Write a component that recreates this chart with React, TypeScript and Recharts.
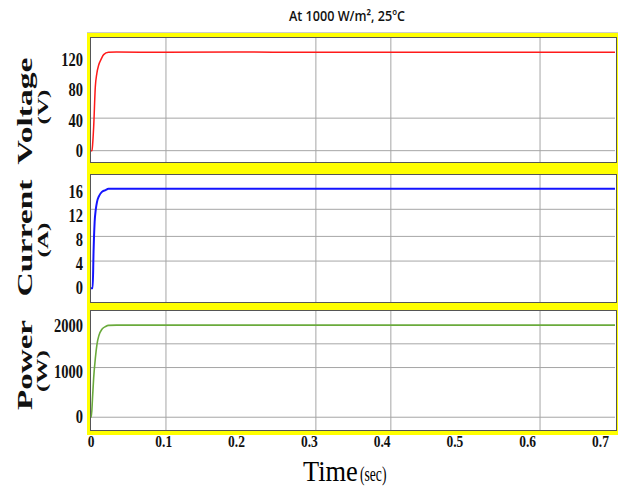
import React from 'react';
import { LineChart, Line, XAxis, YAxis, CartesianGrid } from 'recharts';

// time axis ticks (sec)
const timeTicks = [0, 0.1, 0.2, 0.3, 0.4, 0.5, 0.6, 0.7];
const vGridTimes = [0.103, 0.309, 0.412, 0.617];

// Voltage (V)
const voltTime = [0, 0.0014, 0.0025, 0.0037, 0.0059, 0.008, 0.0105, 0.014, 0.0174, 0.024, 0.035, 0.1, 0.2, 0.3, 0.4, 0.5, 0.6, 0.72];
const voltage = [0, 0, 12, 32, 84, 102, 113, 121, 127, 130, 130.4, 130.2, 130.4, 130.1, 130.3, 130.2, 130.3, 130.2];
const voltTicks = [0, 40, 80, 120];
const voltGrid = [0, 22, 43];

// Current (A)
const currTime = [0, 0.0023, 0.0035, 0.005, 0.0065, 0.0082, 0.011, 0.015, 0.02, 0.024, 0.035, 0.1, 0.2, 0.3, 0.4, 0.5, 0.6, 0.72];
const current = [0, 0, 6, 11, 13, 14.3, 15.3, 16, 16.3, 16.5, 16.5, 16.5, 16.5, 16.5, 16.5, 16.5, 16.5, 16.5];
const currTicks = [0, 4, 8, 12, 16];
const currGrid = [2.3, 4.5, 6.6, 8.6, 11, 13.1];

// Power (W)
const powTime = [0, 0.0004, 0.002, 0.0037, 0.006, 0.0082, 0.011, 0.015, 0.02, 0.024, 0.035, 0.1, 0.2, 0.3, 0.4, 0.5, 0.6, 0.72];
const power = [0, 0, 400, 870, 1300, 1600, 1800, 1930, 1990, 2015, 2020, 2020, 2020, 2020, 2020, 2020, 2020, 2020];
const powTicks = [0, 1000, 2000];
const powGrid = [0, 1090, 1610];

const serif = '"Liberation Serif", "DejaVu Serif", serif';

const YTick = (props: any) => {
  const { x, y, payload } = props;
  return (
    <g transform={`translate(${x},${y})`}>
      <text textAnchor="end" dominantBaseline="central" transform="scale(1,1.35)"
        fontFamily={serif} fontWeight="bold" fontSize={14.5} fill="#111">
        {payload.value}
      </text>
    </g>
  );
};

const XTick = (props: any) => {
  const { x, y, payload } = props;
  return (
    <g transform={`translate(${x},${y})`}>
      <text textAnchor="middle" dy="0.75em" transform="scale(1,1.3)"
        fontFamily={serif} fontWeight="bold" fontSize={13.5} fill="#111">
        {payload.value === 0 ? '0' : payload.value.toFixed(1)}
      </text>
    </g>
  );
};

type PanelProps = {
  top: number;
  height: number;
  data: { t: number; y: number }[];
  domain: [number, number];
  ticks: number[];
  grid: number[];
  color: string;
  width?: number;
  showX?: boolean;
};

const Panel = ({ top, height, data, domain, ticks, grid, color, width = 1.6, showX }: PanelProps) => (
  <div style={{ position: 'absolute', left: 0, top }}>
    <LineChart width={622} height={height + (showX ? 30 : 0)} data={data}
      margin={{ top: 0, right: 7, bottom: 0, left: 0 }}>
      <CartesianGrid stroke="#a6a6a6" horizontalValues={grid} verticalValues={vGridTimes} />
      <XAxis type="number" dataKey="t" domain={[0, 0.72]} ticks={timeTicks} hide={!showX}
        axisLine={false} tickLine={false} tickSize={3} tickMargin={1} height={30} tick={<XTick />} />
      <YAxis type="number" domain={domain} ticks={ticks} width={91} axisLine={false}
        tickLine={false} tickSize={6} tickMargin={2} tick={<YTick />} allowDataOverflow />
      <Line type="monotone" dataKey="y" stroke={color} strokeWidth={width} dot={false}
        isAnimationActive={false} />
    </LineChart>
  </div>
);

const white = (top: number, height: number) => (
  <div style={{
    position: 'absolute', left: 90, top: top - 1, width: 525, height,
    background: '#fff', border: '1px solid #555',
  }} />
);

export default function App() {
  const vData = voltTime.map((t, i) => ({ t, y: voltage[i] }));
  const cData = currTime.map((t, i) => ({ t, y: current[i] }));
  const pData = powTime.map((t, i) => ({ t, y: power[i] }));

  return (
    <div style={{ position: 'absolute', left: 0, top: 0, width: 622, height: 490, background: '#fff', overflow: 'hidden' }}>
      {/* yellow scope frame */}
      <div style={{
        position: 'absolute', left: 87, top: 32, width: 531, height: 402,
        background: '#ffff00', borderTop: '1px solid #ccc',
      }} />
      {white(38, 124)}
      {white(175, 127)}
      {white(311, 119)}

      <Panel top={38} height={124} data={vData} domain={[-15, 149]} ticks={voltTicks} grid={voltGrid} color="#ff1a1a" width={1.5} />
      <Panel top={175} height={127} data={cData} domain={[-2.3, 18.8]} ticks={currTicks} grid={currGrid} color="#1414ff" width={2} />
      <Panel top={311} height={119} data={pData} domain={[-280, 2330]} ticks={powTicks} grid={powGrid} color="#6aaa3c" width={1.6} showX />

      <svg width={622} height={490} style={{ position: 'absolute', left: 0, top: 0, pointerEvents: 'none' }}>
        <text x={289} y={21} textLength={116} lengthAdjust="spacingAndGlyphs"
          fontFamily='"Open Sans", "Noto Sans", sans-serif' fontWeight={600} fontSize={15} fill="#111">
          At 1000 W/m², 25ºC
        </text>

        <g fontFamily={serif} fontWeight="bold" fill="#111">
          <text transform="translate(32,111) rotate(-90)" textAnchor="middle" fontSize={20} textLength={107} lengthAdjust="spacingAndGlyphs">Voltage</text>
          <text transform="translate(48,107) rotate(-90)" textAnchor="middle" fontSize={15} textLength={35} lengthAdjust="spacingAndGlyphs">(V)</text>
          <text transform="translate(32,238) rotate(-90)" textAnchor="middle" fontSize={20} textLength={117} lengthAdjust="spacingAndGlyphs">Current</text>
          <text transform="translate(48,240) rotate(-90)" textAnchor="middle" fontSize={15} textLength={35} lengthAdjust="spacingAndGlyphs">(A)</text>
          <text transform="translate(32,365) rotate(-90)" textAnchor="middle" fontSize={20} textLength={90} lengthAdjust="spacingAndGlyphs">Power</text>
          <text transform="translate(47,371) rotate(-90)" textAnchor="middle" fontSize={15} textLength={42} lengthAdjust="spacingAndGlyphs">(W)</text>
        </g>

        <g fontFamily={serif} fill="#000">
          <text transform="translate(303,481) scale(0.88,1)" fontSize={30}>Time</text>
          <text transform="translate(360,481) scale(0.68,1)" fontSize={20}>(sec)</text>
        </g>
      </svg>
    </div>
  );
}
